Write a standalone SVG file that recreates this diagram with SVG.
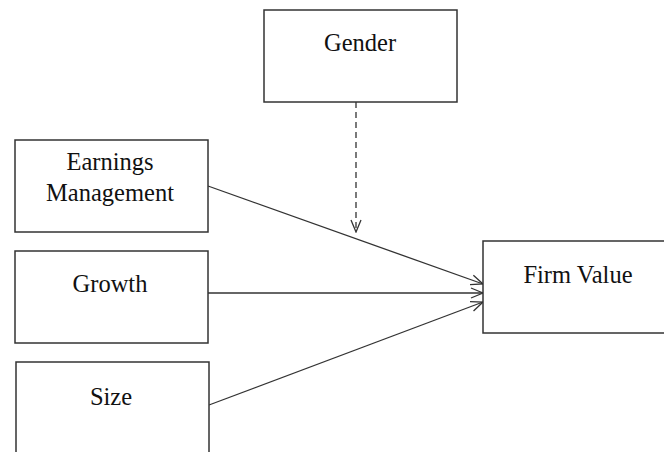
<svg xmlns="http://www.w3.org/2000/svg" width="664" height="452" viewBox="0 0 664 452">
<defs>
<style>
.box{fill:#fff;stroke:#333;stroke-width:1.5}
.lbl{font-family:"Liberation Serif","Times New Roman",serif;font-size:24.5px;fill:#111;text-anchor:middle}
.conn{fill:none;stroke:#333;stroke-width:1.3}
.dash{stroke-dasharray:6,4}
</style>
<marker id="arr" viewBox="0 0 14 12" refX="13" refY="6" markerWidth="14" markerHeight="12" markerUnits="userSpaceOnUse" orient="auto">
<path d="M1,1 L13,6 L1,11" fill="none" stroke="#333" stroke-width="1.3"/>
</marker>
</defs>
<rect width="664" height="452" fill="#fff"/>
<g id="connectors">
<line class="conn dash" x1="356" y1="102" x2="356" y2="232" marker-end="url(#arr)"/>
<line class="conn" x1="208" y1="186" x2="483" y2="284" marker-end="url(#arr)"/>
<line class="conn" x1="208" y1="293" x2="483" y2="293" marker-end="url(#arr)"/>
<line class="conn" x1="209" y1="405" x2="483" y2="302" marker-end="url(#arr)"/>
</g>
<g id="gender">
<rect class="box" x="264" y="10" width="193" height="92"/>
<text class="lbl" x="360" y="51">Gender</text>
</g>
<g id="earnings">
<rect class="box" x="15" y="140" width="193" height="92"/>
<text class="lbl" x="110" y="170">Earnings</text>
<text class="lbl" x="110" y="201">Management</text>
</g>
<g id="growth">
<rect class="box" x="15" y="251" width="193" height="92"/>
<text class="lbl" x="110" y="292">Growth</text>
</g>
<g id="size">
<rect class="box" x="16" y="362" width="193" height="100"/>
<text class="lbl" x="111" y="405">Size</text>
</g>
<g id="firmvalue">
<rect class="box" x="483" y="241" width="190" height="92"/>
<text class="lbl" x="578" y="283">Firm Value</text>
</g>
</svg>
